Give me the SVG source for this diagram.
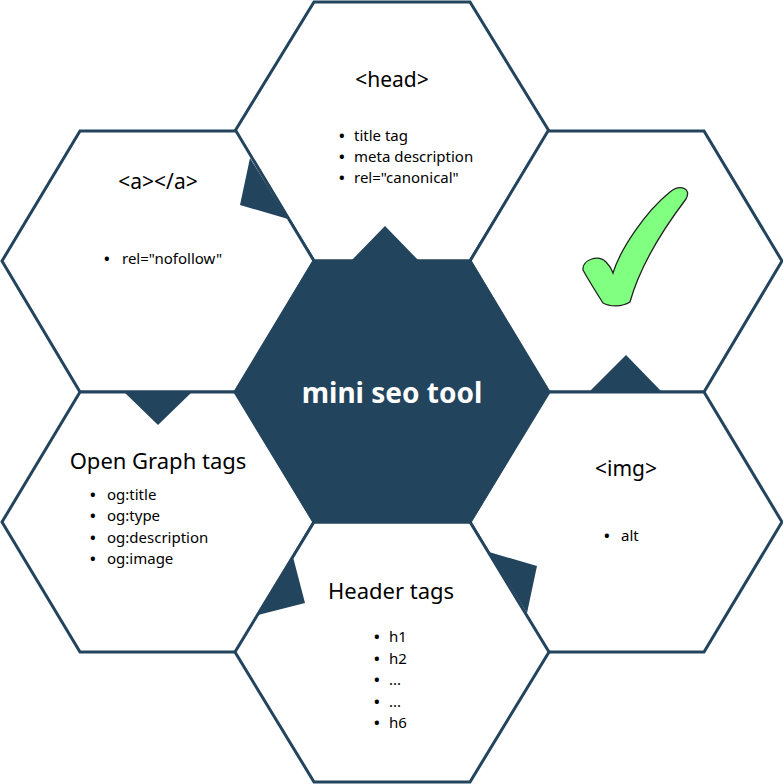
<svg xmlns="http://www.w3.org/2000/svg" width="783" height="784" viewBox="0 0 783 784">
<style>
.hex{fill:#ffffff;stroke:#23445d;stroke-width:3;stroke-linejoin:miter}
.core{fill:#23445d;stroke:#23445d;stroke-width:3}
.tri{fill:#23445d;stroke:none}
.ttl{font-family:"Noto Sans","DejaVu Sans",sans-serif;font-size:21px;fill:#000;text-anchor:middle}
.big{font-family:"Noto Sans","DejaVu Sans",sans-serif;font-size:22px;fill:#000;text-anchor:middle}
.li{font-family:"Noto Sans","DejaVu Sans",sans-serif;font-size:15px;fill:#000}
.bu{font-weight:bold}
.main{font-family:"Noto Sans","DejaVu Sans",sans-serif;font-size:28px;font-weight:bold;fill:#fff;text-anchor:middle}
.chk{fill:#80ff80;stroke:#222;stroke-width:1.3}
</style>
<rect width="783" height="784" fill="#ffffff"/>
<g id="node-head">
<polygon class="hex" points="235,131 314,2 470,2 549,131 470,261 314,261"/>
<text class="ttl" x="392" y="87">&lt;head&gt;</text>
<text class="li" x="339" y="141"><tspan class="bu">•</tspan><tspan x="354">title tag</tspan></text>
<text class="li" x="339" y="162"><tspan class="bu">•</tspan><tspan x="354">meta description</tspan></text>
<text class="li" x="339" y="183"><tspan class="bu">•</tspan><tspan x="354">rel="canonical"</tspan></text>
</g>
<g id="node-a">
<polygon class="hex" points="2,261 80,131 236,131 314,261 236,392 80,392"/>
<text class="ttl" x="158" y="189">&lt;a&gt;&lt;/a&gt;</text>
<text class="li" x="104" y="264"><tspan class="bu">•</tspan><tspan x="122">rel="nofollow"</tspan></text>
</g>
<g id="node-check">
<polygon class="hex" points="470,261 548,131 704,131 782,261 704,392 548,392"/>
<path class="chk" d="M613,273 C620,250 645,212 670,192 C680,184 692,188 686,199 C664,228 640,266 630,302 C622,307 610,307 603,303 C596,292 589,281 583,270 C582,260 598,254 606,262 C610,266 612,270 613,273 Z"/>
</g>
<g id="node-og">
<polygon class="hex" points="2,522 80,392 236,392 314,522 236,652 80,652"/>
<text class="big" x="158" y="469">Open Graph tags</text>
<text class="li" x="90" y="500"><tspan class="bu">•</tspan><tspan x="107">og:title</tspan></text>
<text class="li" x="90" y="521"><tspan class="bu">•</tspan><tspan x="107">og:type</tspan></text>
<text class="li" x="90" y="543"><tspan class="bu">•</tspan><tspan x="107">og:description</tspan></text>
<text class="li" x="90" y="564"><tspan class="bu">•</tspan><tspan x="107">og:image</tspan></text>
</g>
<g id="node-img">
<polygon class="hex" points="470,522 548,392 704,392 782,522 704,652 548,652"/>
<text class="ttl" x="626" y="476">&lt;img&gt;</text>
<text class="li" x="604" y="541"><tspan class="bu">•</tspan><tspan x="621">alt</tspan></text>
</g>
<g id="node-header">
<polygon class="hex" points="235,652 314,522 470,522 549,652 470,782 314,782"/>
<text class="big" x="391" y="599">Header tags</text>
<text class="li" x="374" y="642"><tspan class="bu">•</tspan><tspan x="389">h1</tspan></text>
<text class="li" x="374" y="664"><tspan class="bu">•</tspan><tspan x="389">h2</tspan></text>
<text class="li" x="374" y="685"><tspan class="bu">•</tspan><tspan x="389">...</tspan></text>
<text class="li" x="374" y="707"><tspan class="bu">•</tspan><tspan x="389">...</tspan></text>
<text class="li" x="374" y="728"><tspan class="bu">•</tspan><tspan x="389">h6</tspan></text>
</g>
<g id="node-center">
<polygon class="core" points="235,392 314,261 470,261 549,392 470,522 314,522"/>
<text class="main" x="392" y="403">mini seo tool</text>
</g>
<g id="connectors">
<polygon class="tri" points="350,262 420,262 385,226"/>
<polygon class="tri" points="250,158 288,219 240,205"/>
<polygon class="tri" points="123,391 193,391 158,425"/>
<polygon class="tri" points="590,391 661,391 626,355"/>
<polygon class="tri" points="293,557 258,615 305,603"/>
<polygon class="tri" points="489,552 527,613 537,566"/>
</g>
</svg>
